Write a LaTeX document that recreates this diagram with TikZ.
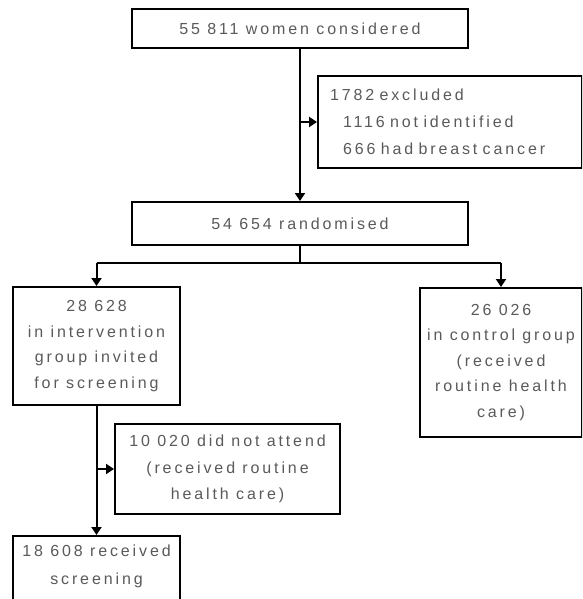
\documentclass[tikz,border=0pt]{standalone}
\usepackage{fontspec}
\setmainfont{Liberation Sans}[LetterSpace=18]
\usetikzlibrary{arrows.meta}
\definecolor{txt}{HTML}{5A5A5A}
\tikzset{
  box/.style={draw=black, line width=2pt, rectangle, inner sep=0pt, text=txt,
    font=\fontsize{16}{25.5}\selectfont, align=center},
  conn/.style={draw=black, line width=2pt},
  arr/.style={conn, -{Triangle[width=10pt,length=8pt]}}
}
\begin{document}
\begin{tikzpicture}[x=1pt,y=-1pt]
\clip (0,0) rectangle (582,599);
\fill[white] (0,0) rectangle (582,599);
\node[box, minimum width=336pt, minimum height=39pt] (b1) at (300,28.5) {55 811 women considered};
\node[box, minimum width=264pt, minimum height=92pt, text width=240pt, align=left, font=\fontsize{16}{27}\selectfont] (ex) at (450,122)
  {1782 excluded\\\hspace*{13pt}1116 not identified\\\hspace*{13pt}666 had breast cancer};
\node[box, minimum width=336pt, minimum height=43pt] (b2) at (300,223.5) {54 654 randomised};
\node[box, minimum width=167pt, minimum height=118pt] (L) at (96.5,346) {28 628\\in intervention\\group invited\\for screening};
\node[box, minimum width=162pt, minimum height=149pt] (R) at (501,362.5) {26 026\\in control group\\(received\\routine health\\care)};
\node[box, minimum width=225pt, minimum height=90pt, font=\fontsize{16}{26.5}\selectfont] (D) at (227.5,469) {10 020 did not attend\\(received routine\\health care)};
\node[box, minimum width=167pt, minimum height=84pt, anchor=north] (B) at (96.5,535) {};
\node[text=txt, font=\fontsize{16}{27.5}\selectfont, align=center, inner sep=0pt] (Bt) at (96.5,566.5) {18 608 received\\screening};

\coordinate (j1) at (b1.south |- ex.west);
\coordinate (split) at (300,263);
\coordinate (j2) at (L.south |- D.west);

\draw[arr] (b1.south) -- (b2.north);
\draw[arr] (j1) -- (ex.west);
\draw[conn] (b2.south) -- (split);
\draw[conn] (L.north |- split) -- (R.north |- split);
\draw[arr] (L.north |- split) -- (L.north);
\draw[arr] (R.north |- split) -- (R.north);
\draw[arr] (L.south) -- (B.north);
\draw[arr] (j2) -- (D.west);
\end{tikzpicture}
\end{document}
